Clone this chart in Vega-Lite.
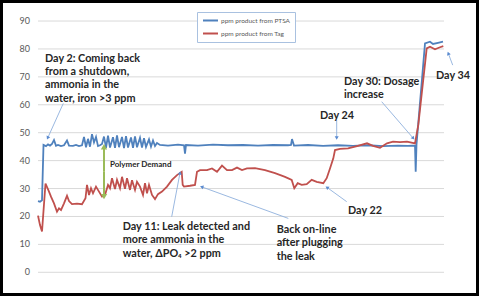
{
  "$schema": "https://vega.github.io/schema/vega-lite/v6.json",
  "width": 479,
  "height": 296,
  "autosize": {"type": "none"},
  "padding": 0,
  "background": "white",
  "config": {"view": {"stroke": "black", "strokeWidth": 6}, "font": "Lato"},
  "datasets": {
    "levels": [{"v": 0, "t0": 0, "t1": 406}, {"v": 10, "t0": 0, "t1": 406}, {"v": 20, "t0": 0, "t1": 406}, {"v": 30, "t0": 0, "t1": 406}, {"v": 40, "t0": 0, "t1": 406}, {"v": 50, "t0": 0, "t1": 406}, {"v": 60, "t0": 0, "t1": 406}, {"v": 70, "t0": 0, "t1": 406}, {"v": 80, "t0": 0, "t1": 406}, {"v": 90, "t0": 0, "t1": 406}],
    "series": [
      {"s": "ppm product from PTSA", "t": 0, "v": 25.5}, {"s": "ppm product from PTSA", "t": 2, "v": 25.3}, {"s": "ppm product from PTSA", "t": 4, "v": 25.8},
      {"s": "ppm product from PTSA", "t": 5.5, "v": 45.6}, {"s": "ppm product from PTSA", "t": 8, "v": 45.2}, {"s": "ppm product from PTSA", "t": 10, "v": 45.8},
      {"s": "ppm product from PTSA", "t": 12, "v": 45.4}, {"s": "ppm product from PTSA", "t": 14, "v": 46.0}, {"s": "ppm product from PTSA", "t": 16, "v": 47.4},
      {"s": "ppm product from PTSA", "t": 18, "v": 45.3}, {"s": "ppm product from PTSA", "t": 20, "v": 45.6}, {"s": "ppm product from PTSA", "t": 23, "v": 45.2},
      {"s": "ppm product from PTSA", "t": 26, "v": 45.5}, {"s": "ppm product from PTSA", "t": 29, "v": 47.2}, {"s": "ppm product from PTSA", "t": 31, "v": 45.4},
      {"s": "ppm product from PTSA", "t": 35, "v": 45.3}, {"s": "ppm product from PTSA", "t": 38, "v": 45.6}, {"s": "ppm product from PTSA", "t": 41, "v": 45.2},
      {"s": "ppm product from PTSA", "t": 44, "v": 45.5}, {"s": "ppm product from PTSA", "t": 46, "v": 48.5}, {"s": "ppm product from PTSA", "t": 48, "v": 44.8},
      {"s": "ppm product from PTSA", "t": 50, "v": 47.8}, {"s": "ppm product from PTSA", "t": 52, "v": 45.0}, {"s": "ppm product from PTSA", "t": 54, "v": 49.5},
      {"s": "ppm product from PTSA", "t": 56, "v": 46.5}, {"s": "ppm product from PTSA", "t": 58, "v": 48.5}, {"s": "ppm product from PTSA", "t": 60, "v": 45.2},
      {"s": "ppm product from PTSA", "t": 62, "v": 45.5}, {"s": "ppm product from PTSA", "t": 64, "v": 46.0}, {"s": "ppm product from PTSA", "t": 66, "v": 48.6},
      {"s": "ppm product from PTSA", "t": 68, "v": 44.6}, {"s": "ppm product from PTSA", "t": 70, "v": 48.9}, {"s": "ppm product from PTSA", "t": 72, "v": 44.7},
      {"s": "ppm product from PTSA", "t": 75, "v": 48.4}, {"s": "ppm product from PTSA", "t": 77, "v": 44.6}, {"s": "ppm product from PTSA", "t": 79, "v": 49.0},
      {"s": "ppm product from PTSA", "t": 81, "v": 44.8}, {"s": "ppm product from PTSA", "t": 84, "v": 48.5}, {"s": "ppm product from PTSA", "t": 86, "v": 44.5},
      {"s": "ppm product from PTSA", "t": 88, "v": 48.8}, {"s": "ppm product from PTSA", "t": 90, "v": 44.7}, {"s": "ppm product from PTSA", "t": 93, "v": 48.3},
      {"s": "ppm product from PTSA", "t": 95, "v": 44.6}, {"s": "ppm product from PTSA", "t": 97, "v": 48.7}, {"s": "ppm product from PTSA", "t": 99, "v": 44.8},
      {"s": "ppm product from PTSA", "t": 102, "v": 48.2}, {"s": "ppm product from PTSA", "t": 104, "v": 44.7}, {"s": "ppm product from PTSA", "t": 106, "v": 48.0},
      {"s": "ppm product from PTSA", "t": 108, "v": 44.9}, {"s": "ppm product from PTSA", "t": 111, "v": 47.6}, {"s": "ppm product from PTSA", "t": 113, "v": 45.0},
      {"s": "ppm product from PTSA", "t": 115, "v": 47.2}, {"s": "ppm product from PTSA", "t": 117, "v": 45.2}, {"s": "ppm product from PTSA", "t": 119, "v": 46.3},
      {"s": "ppm product from PTSA", "t": 122, "v": 45.6}, {"s": "ppm product from PTSA", "t": 130, "v": 45.4}, {"s": "ppm product from PTSA", "t": 140, "v": 45.7},
      {"s": "ppm product from PTSA", "t": 146, "v": 45.5}, {"s": "ppm product from PTSA", "t": 147, "v": 42.5}, {"s": "ppm product from PTSA", "t": 148, "v": 45.6},
      {"s": "ppm product from PTSA", "t": 160, "v": 45.4}, {"s": "ppm product from PTSA", "t": 175, "v": 45.7}, {"s": "ppm product from PTSA", "t": 190, "v": 45.5},
      {"s": "ppm product from PTSA", "t": 205, "v": 45.6}, {"s": "ppm product from PTSA", "t": 220, "v": 45.4}, {"s": "ppm product from PTSA", "t": 235, "v": 45.6},
      {"s": "ppm product from PTSA", "t": 250, "v": 45.5}, {"s": "ppm product from PTSA", "t": 253, "v": 45.6}, {"s": "ppm product from PTSA", "t": 254, "v": 47.7},
      {"s": "ppm product from PTSA", "t": 256, "v": 45.4}, {"s": "ppm product from PTSA", "t": 270, "v": 45.6}, {"s": "ppm product from PTSA", "t": 285, "v": 45.3},
      {"s": "ppm product from PTSA", "t": 300, "v": 45.5}, {"s": "ppm product from PTSA", "t": 315, "v": 45.3}, {"s": "ppm product from PTSA", "t": 330, "v": 45.5},
      {"s": "ppm product from PTSA", "t": 345, "v": 45.2}, {"s": "ppm product from PTSA", "t": 360, "v": 45.4}, {"s": "ppm product from PTSA", "t": 370, "v": 45.3},
      {"s": "ppm product from PTSA", "t": 377, "v": 45.4}, {"s": "ppm product from PTSA", "t": 377.7, "v": 36.0}, {"s": "ppm product from PTSA", "t": 378.5, "v": 45.8},
      {"s": "ppm product from PTSA", "t": 387, "v": 82.0}, {"s": "ppm product from PTSA", "t": 392, "v": 82.6}, {"s": "ppm product from PTSA", "t": 395, "v": 81.8},
      {"s": "ppm product from PTSA", "t": 400, "v": 82.2}, {"s": "ppm product from PTSA", "t": 405, "v": 82.6},
      {"s": "ppm product from Tag", "t": 0, "v": 20.3}, {"s": "ppm product from Tag", "t": 2, "v": 16.9}, {"s": "ppm product from Tag", "t": 4, "v": 14.6},
      {"s": "ppm product from Tag", "t": 7.5, "v": 31.8}, {"s": "ppm product from Tag", "t": 11, "v": 28.9}, {"s": "ppm product from Tag", "t": 13, "v": 27.1},
      {"s": "ppm product from Tag", "t": 16, "v": 24.7}, {"s": "ppm product from Tag", "t": 19, "v": 21.7}, {"s": "ppm product from Tag", "t": 21, "v": 22.9},
      {"s": "ppm product from Tag", "t": 23, "v": 22.3}, {"s": "ppm product from Tag", "t": 26, "v": 24.7}, {"s": "ppm product from Tag", "t": 29, "v": 27.4},
      {"s": "ppm product from Tag", "t": 31, "v": 25.5}, {"s": "ppm product from Tag", "t": 34, "v": 24.4}, {"s": "ppm product from Tag", "t": 39, "v": 24.6},
      {"s": "ppm product from Tag", "t": 44, "v": 24.4}, {"s": "ppm product from Tag", "t": 47.5, "v": 26.5}, {"s": "ppm product from Tag", "t": 49, "v": 31.3},
      {"s": "ppm product from Tag", "t": 51, "v": 27.7}, {"s": "ppm product from Tag", "t": 53, "v": 30.1}, {"s": "ppm product from Tag", "t": 55, "v": 28.3},
      {"s": "ppm product from Tag", "t": 58, "v": 30.7}, {"s": "ppm product from Tag", "t": 61, "v": 28.9}, {"s": "ppm product from Tag", "t": 64, "v": 27.1},
      {"s": "ppm product from Tag", "t": 67, "v": 27.7}, {"s": "ppm product from Tag", "t": 70, "v": 31.3}, {"s": "ppm product from Tag", "t": 72, "v": 30.1},
      {"s": "ppm product from Tag", "t": 74, "v": 33.7}, {"s": "ppm product from Tag", "t": 77, "v": 29.8}, {"s": "ppm product from Tag", "t": 79, "v": 33.1},
      {"s": "ppm product from Tag", "t": 82, "v": 30.1}, {"s": "ppm product from Tag", "t": 84, "v": 34.2}, {"s": "ppm product from Tag", "t": 87, "v": 29.9},
      {"s": "ppm product from Tag", "t": 89, "v": 33.7}, {"s": "ppm product from Tag", "t": 92, "v": 29.5}, {"s": "ppm product from Tag", "t": 94, "v": 33.0},
      {"s": "ppm product from Tag", "t": 97, "v": 29.5}, {"s": "ppm product from Tag", "t": 99, "v": 32.4}, {"s": "ppm product from Tag", "t": 102, "v": 30.7},
      {"s": "ppm product from Tag", "t": 105, "v": 27.7}, {"s": "ppm product from Tag", "t": 107, "v": 31.9}, {"s": "ppm product from Tag", "t": 109, "v": 28.3},
      {"s": "ppm product from Tag", "t": 111, "v": 31.3}, {"s": "ppm product from Tag", "t": 114, "v": 27.7}, {"s": "ppm product from Tag", "t": 117, "v": 26.2},
      {"s": "ppm product from Tag", "t": 120, "v": 28.0}, {"s": "ppm product from Tag", "t": 124, "v": 28.9}, {"s": "ppm product from Tag", "t": 129, "v": 30.7},
      {"s": "ppm product from Tag", "t": 134, "v": 33.1}, {"s": "ppm product from Tag", "t": 139, "v": 34.8}, {"s": "ppm product from Tag", "t": 143.7, "v": 36.0},
      {"s": "ppm product from Tag", "t": 144.7, "v": 31.3}, {"s": "ppm product from Tag", "t": 146, "v": 30.7}, {"s": "ppm product from Tag", "t": 152, "v": 31.0},
      {"s": "ppm product from Tag", "t": 157, "v": 31.3}, {"s": "ppm product from Tag", "t": 159, "v": 36.0}, {"s": "ppm product from Tag", "t": 162, "v": 36.6},
      {"s": "ppm product from Tag", "t": 169, "v": 36.6}, {"s": "ppm product from Tag", "t": 174, "v": 37.2}, {"s": "ppm product from Tag", "t": 179, "v": 36.0},
      {"s": "ppm product from Tag", "t": 184, "v": 38.2}, {"s": "ppm product from Tag", "t": 189, "v": 36.6}, {"s": "ppm product from Tag", "t": 194, "v": 36.6},
      {"s": "ppm product from Tag", "t": 199, "v": 37.5}, {"s": "ppm product from Tag", "t": 204, "v": 36.6}, {"s": "ppm product from Tag", "t": 209, "v": 37.2},
      {"s": "ppm product from Tag", "t": 217, "v": 37.3}, {"s": "ppm product from Tag", "t": 227, "v": 36.6}, {"s": "ppm product from Tag", "t": 237, "v": 35.5},
      {"s": "ppm product from Tag", "t": 247, "v": 34.2}, {"s": "ppm product from Tag", "t": 253.7, "v": 33.1}, {"s": "ppm product from Tag", "t": 256.3, "v": 30.1},
      {"s": "ppm product from Tag", "t": 259.7, "v": 31.9}, {"s": "ppm product from Tag", "t": 263.7, "v": 31.3}, {"s": "ppm product from Tag", "t": 268.7, "v": 31.6},
      {"s": "ppm product from Tag", "t": 273.7, "v": 33.1}, {"s": "ppm product from Tag", "t": 278.7, "v": 32.4}, {"s": "ppm product from Tag", "t": 285.3, "v": 31.9},
      {"s": "ppm product from Tag", "t": 288.7, "v": 33.7}, {"s": "ppm product from Tag", "t": 292, "v": 37.2}, {"s": "ppm product from Tag", "t": 295.3, "v": 40.8},
      {"s": "ppm product from Tag", "t": 297, "v": 43.8}, {"s": "ppm product from Tag", "t": 302, "v": 44.2}, {"s": "ppm product from Tag", "t": 310, "v": 44.4},
      {"s": "ppm product from Tag", "t": 317, "v": 45.0}, {"s": "ppm product from Tag", "t": 319, "v": 45.2}, {"s": "ppm product from Tag", "t": 329, "v": 46.2},
      {"s": "ppm product from Tag", "t": 335, "v": 45.3}, {"s": "ppm product from Tag", "t": 342, "v": 44.6}, {"s": "ppm product from Tag", "t": 349, "v": 46.2},
      {"s": "ppm product from Tag", "t": 355, "v": 46.8}, {"s": "ppm product from Tag", "t": 362, "v": 46.6}, {"s": "ppm product from Tag", "t": 369, "v": 46.8},
      {"s": "ppm product from Tag", "t": 377, "v": 46.2}, {"s": "ppm product from Tag", "t": 380.3, "v": 52.8}, {"s": "ppm product from Tag", "t": 388.7, "v": 80.2},
      {"s": "ppm product from Tag", "t": 392, "v": 80.8}, {"s": "ppm product from Tag", "t": 397, "v": 79.9}, {"s": "ppm product from Tag", "t": 402, "v": 80.6},
      {"s": "ppm product from Tag", "t": 405.3, "v": 81.0}
    ],
    "arrows": [
      {"tx": 25.3, "ty": 60.5, "hx": 9.7, "hy": 48.1},
      {"tx": 133.7, "ty": 19.9, "hx": 142, "hy": 35.6},
      {"tx": 250.3, "ty": 19.3, "hx": 163.7, "hy": 30.6},
      {"tx": 308.7, "ty": 25.3, "hx": 289, "hy": 30.4},
      {"tx": 298.7, "ty": 54.5, "hx": 298.7, "hy": 48.1},
      {"tx": 343.7, "ty": 61.1, "hx": 375.3, "hy": 48.0},
      {"tx": 414.7, "ty": 74.2, "hx": 410.3, "hy": 78.4}
    ],
    "demand": [
      {"tx": 66, "ty": 36, "hx": 66, "hy": 45.0},
      {"tx": 66, "ty": 36, "hx": 66, "hy": 27.1}
    ],
    "notes": [
      {"t": 7, "v": 78.6, "text": "Day 2: Coming back\nfrom a shutdown,\nammonia in the\nwater, iron >3 ppm"},
      {"t": 84.7, "v": 18.4, "text": "Day 11: Leak detected and\nmore ammonia in the\nwater, ΔPO₄ >2 ppm"},
      {"t": 238.7, "v": 17.3, "text": "Back on-line\nafter plugging\nthe leak"},
      {"t": 310, "v": 24.0, "text": "Day 22"},
      {"t": 282, "v": 58.2, "text": "Day 24"},
      {"t": 306, "v": 70.4, "text": "Day 30: Dosage\nincrease"},
      {"t": 398, "v": 72.5, "text": "Day 34"}
    ],
    "demandLabel": [{"t": 72, "v": 38.4, "text": "Polymer Demand"}]
  },
  "layer": [
    {
      "data": {"name": "levels"},
      "mark": {"type": "rule", "stroke": "#d9d9d9", "strokeWidth": 1},
      "encoding": {
        "x": {"field": "t0", "type": "quantitative", "scale": {"domain": [-38, 441], "nice": false, "zero": false}, "axis": null},
        "x2": {"field": "t1"},
        "y": {"field": "v", "type": "quantitative", "scale": {"domain": [-8.49, 97.53], "nice": false, "zero": false}, "axis": null}
      }
    },
    {
      "data": {"name": "levels"},
      "mark": {"type": "text", "align": "right", "baseline": "middle", "dx": -8, "fontSize": 9, "font": "Lato", "color": "#595959"},
      "encoding": {
        "x": {"field": "t0", "type": "quantitative"},
        "y": {"field": "v", "type": "quantitative"},
        "text": {"field": "v", "type": "quantitative"}
      }
    },
    {
      "data": {"name": "series"},
      "mark": {"type": "line", "strokeWidth": 1.8},
      "encoding": {
        "x": {"field": "t", "type": "quantitative"},
        "y": {"field": "v", "type": "quantitative"},
        "color": {"field": "s", "type": "nominal",
          "scale": {"domain": ["ppm product from PTSA", "ppm product from Tag"], "range": ["#4f81bd", "#c0504d"]},
          "legend": {"title": null, "orient": "none", "legendX": 197, "legendY": 12, "strokeColor": "#a9c1e0", "fillColor": "white", "padding": 5, "symbolType": "stroke", "symbolSize": 225, "symbolStrokeWidth": 2, "labelFontSize": 6.5, "labelColor": "#595959", "labelFont": "Lato", "rowPadding": 6, "clipHeight": 7, "labelOffset": 2}}
      }
    },
    {
      "data": {"name": "arrows"},
      "mark": {"type": "rule", "color": "#8fb0dc", "strokeWidth": 0.9},
      "encoding": {
        "x": {"field": "tx", "type": "quantitative"},
        "y": {"field": "ty", "type": "quantitative"},
        "x2": {"field": "hx"},
        "y2": {"field": "hy"}
      }
    },
    {
      "data": {"name": "arrows"},
      "transform": [{"calculate": "atan2(datum.hx - datum.tx, (datum.hy - datum.ty) * 2.792) * 180 / PI", "as": "ang"}],
      "mark": {"type": "point", "shape": "triangle-up", "filled": true, "size": 16, "color": "#5b8bd0", "opacity": 1},
      "encoding": {
        "x": {"field": "hx", "type": "quantitative"},
        "y": {"field": "hy", "type": "quantitative"},
        "angle": {"field": "ang", "type": "quantitative", "scale": null}
      }
    },
    {
      "data": {"name": "demand"},
      "mark": {"type": "rule", "color": "#9bbb59", "strokeWidth": 2},
      "encoding": {
        "x": {"field": "tx", "type": "quantitative"},
        "y": {"field": "ty", "type": "quantitative"},
        "x2": {"field": "hx"},
        "y2": {"field": "hy"}
      }
    },
    {
      "data": {"name": "demand"},
      "transform": [{"calculate": "atan2(datum.hx - datum.tx, (datum.hy - datum.ty) * 2.792) * 180 / PI", "as": "ang"}],
      "mark": {"type": "point", "shape": "triangle-up", "filled": true, "size": 40, "color": "#9bbb59", "opacity": 1},
      "encoding": {
        "x": {"field": "hx", "type": "quantitative"},
        "y": {"field": "hy", "type": "quantitative"},
        "angle": {"field": "ang", "type": "quantitative", "scale": null}
      }
    },
    {
      "data": {"name": "notes"},
      "mark": {"type": "text", "align": "left", "baseline": "top", "lineBreak": "\n", "lineHeight": 13.3, "fontSize": 10.8, "fontWeight": "bold", "font": "Lato", "color": "#262626"},
      "encoding": {
        "x": {"field": "t", "type": "quantitative"},
        "y": {"field": "v", "type": "quantitative"},
        "text": {"field": "text", "type": "nominal"}
      }
    },
    {
      "data": {"name": "demandLabel"},
      "mark": {"type": "text", "align": "left", "baseline": "middle", "fontSize": 8, "fontWeight": "bold", "font": "Lato", "color": "#262626"},
      "encoding": {
        "x": {"field": "t", "type": "quantitative"},
        "y": {"field": "v", "type": "quantitative"},
        "text": {"field": "text", "type": "nominal"}
      }
    }
  ]
}
